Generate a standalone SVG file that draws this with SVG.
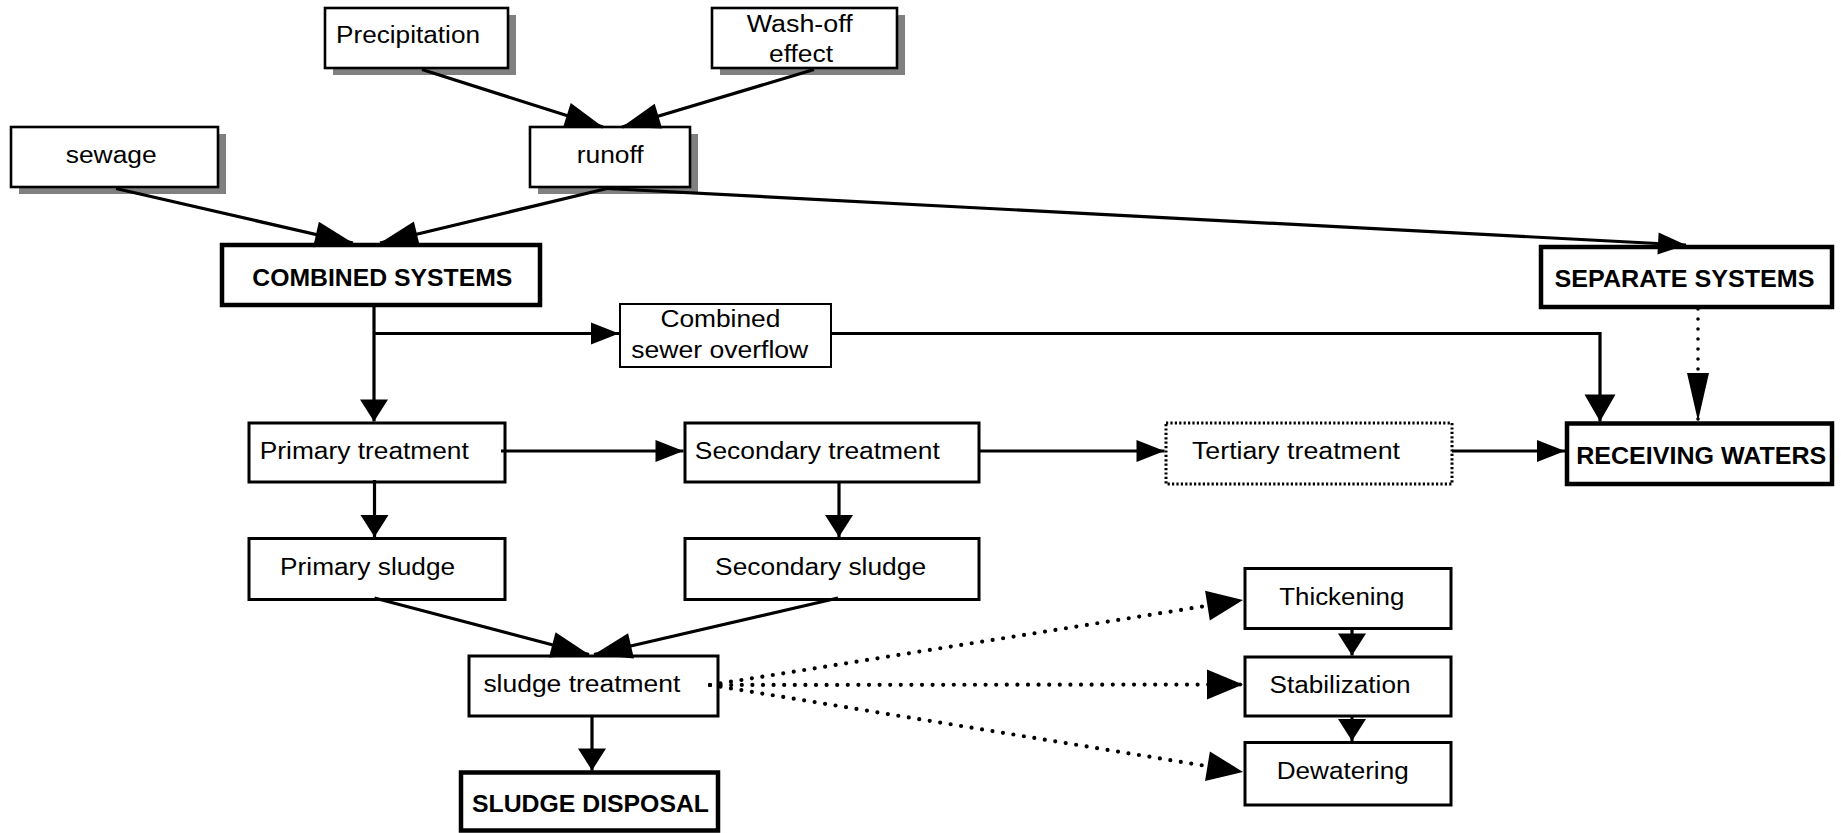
<svg xmlns="http://www.w3.org/2000/svg" width="1841" height="833" viewBox="0 0 1841 833">
<style>
.bg{fill:#fff}
.sh{fill:#808080;stroke:none}
.box{fill:#fff;stroke:#000;stroke-width:2.6}
.boxn{fill:#fff;stroke:#000;stroke-width:3}
.boxb{fill:#fff;stroke:#000;stroke-width:4.5}
.boxt{fill:#fff;stroke:#000;stroke-width:2}
.boxd{fill:#fff;stroke:#000;stroke-width:3;stroke-dasharray:2.2 2.2}
.t{font-family:"Liberation Sans",Arial,sans-serif;font-size:23px;fill:#000;text-anchor:middle}
.tb{font-family:"Liberation Sans",Arial,sans-serif;font-size:24px;font-weight:bold;fill:#000;text-anchor:middle}
.c{fill:none;stroke:#000;stroke-width:3.2}
.cd{fill:none;stroke:#000;stroke-width:4.2;stroke-linecap:round;stroke-dasharray:0 10.6}
.cd2{fill:none;stroke:#000;stroke-width:3.6;stroke-linecap:round;stroke-dasharray:0 10}
.ah{fill:#000;stroke:none}
</style>
<defs>
<marker id="aH" markerUnits="userSpaceOnUse" markerWidth="28" markerHeight="22" refX="28" refY="11" orient="auto" overflow="visible"><path class="ah" d="M0,0 L28,11 L0,22 z"/></marker>
<marker id="aV" markerUnits="userSpaceOnUse" markerWidth="22" markerHeight="28" refX="22" refY="14" orient="auto" overflow="visible"><path class="ah" d="M0,0 L22,14 L0,28 z"/></marker>
<marker id="aV2" markerUnits="userSpaceOnUse" markerWidth="27" markerHeight="31" refX="27" refY="15.5" orient="auto" overflow="visible"><path class="ah" d="M0,0 L27,15.5 L0,31 z"/></marker>
<marker id="aD" markerUnits="userSpaceOnUse" markerWidth="38" markerHeight="26" refX="38" refY="13" orient="auto" overflow="visible"><path class="ah" d="M0,0 L38,13 L0,26 z"/></marker>
<marker id="aB" markerUnits="userSpaceOnUse" markerWidth="36" markerHeight="30" refX="36" refY="15" orient="auto" overflow="visible"><path class="ah" d="M0,0 L36,15 L0,30 z"/></marker>
<marker id="aL" markerUnits="userSpaceOnUse" markerWidth="48" markerHeight="22" refX="48" refY="11" orient="auto" overflow="visible"><path class="ah" d="M0,0 L48,11 L0,22 z"/></marker>
</defs>
<rect class="bg" x="0" y="0" width="1841" height="833"/>

<g id="precipitation">
<rect class="sh" x="333" y="15" width="183" height="60"/>
<rect class="box" x="325" y="8" width="183" height="60"/>
<text class="t" x="408" y="43" textLength="144" lengthAdjust="spacingAndGlyphs">Precipitation</text>
</g>
<g id="washoff">
<rect class="sh" x="720" y="15" width="185" height="60"/>
<rect class="box" x="712" y="8" width="185" height="60"/>
<text class="t" x="799.7" y="32" textLength="106" lengthAdjust="spacingAndGlyphs">Wash-off</text>
<text class="t" x="801" y="62" textLength="64" lengthAdjust="spacingAndGlyphs">effect</text>
</g>
<g id="sewage">
<rect class="sh" x="19" y="134" width="207" height="60"/>
<rect class="box" x="11" y="127" width="207" height="60"/>
<text class="t" x="111.2" y="163" textLength="91" lengthAdjust="spacingAndGlyphs">sewage</text>
</g>
<g id="runoff">
<rect class="sh" x="538" y="134" width="160" height="60"/>
<rect class="box" x="530" y="127" width="160" height="60"/>
<text class="t" x="610.2" y="163" textLength="67" lengthAdjust="spacingAndGlyphs">runoff</text>
</g>
<g id="combined">
<rect class="boxb" x="222" y="245" width="318" height="60"/>
<text class="tb" x="382.3" y="286" textLength="260" lengthAdjust="spacingAndGlyphs">COMBINED SYSTEMS</text>
</g>
<g id="separate">
<rect class="boxb" x="1541" y="247" width="291" height="60"/>
<text class="tb" x="1684.5" y="287" textLength="260" lengthAdjust="spacingAndGlyphs">SEPARATE SYSTEMS</text>
</g>
<g id="cso">
<rect class="boxt" x="620" y="304" width="211" height="63"/>
<text class="t" x="720.4" y="327" textLength="120" lengthAdjust="spacingAndGlyphs">Combined</text>
<text class="t" x="719.8" y="357.5" textLength="177" lengthAdjust="spacingAndGlyphs">sewer overflow</text>
</g>
<g id="primary-treatment">
<rect class="boxn" x="249" y="423" width="256" height="59"/>
<text class="t" x="364.3" y="459" textLength="209" lengthAdjust="spacingAndGlyphs">Primary treatment</text>
</g>
<g id="secondary-treatment">
<rect class="boxn" x="685" y="423" width="294" height="59"/>
<text class="t" x="817.3" y="459" textLength="245" lengthAdjust="spacingAndGlyphs">Secondary treatment</text>
</g>
<g id="tertiary-treatment">
<rect class="boxd" x="1166" y="423" width="286" height="61"/>
<text class="t" x="1296" y="459" textLength="208" lengthAdjust="spacingAndGlyphs">Tertiary treatment</text>
</g>
<g id="receiving">
<rect class="boxb" x="1567" y="423.5" width="265" height="60.5"/>
<text class="tb" x="1701.2" y="464.3" textLength="250" lengthAdjust="spacingAndGlyphs">RECEIVING WATERS</text>
</g>
<g id="primary-sludge">
<rect class="boxn" x="249" y="538.5" width="256" height="61"/>
<text class="t" x="367.6" y="575" textLength="175" lengthAdjust="spacingAndGlyphs">Primary sludge</text>
</g>
<g id="secondary-sludge">
<rect class="boxn" x="685" y="538.5" width="294" height="61"/>
<text class="t" x="820.6" y="575" textLength="211" lengthAdjust="spacingAndGlyphs">Secondary sludge</text>
</g>
<g id="sludge-treatment">
<rect class="boxn" x="469" y="656" width="249" height="60"/>
<text class="t" x="581.9" y="692" textLength="197" lengthAdjust="spacingAndGlyphs">sludge treatment</text>
</g>
<g id="sludge-disposal">
<rect class="boxb" x="461" y="772.5" width="257" height="58"/>
<text class="tb" x="590.5" y="812" textLength="237" lengthAdjust="spacingAndGlyphs">SLUDGE DISPOSAL</text>
</g>
<g id="thickening">
<rect class="boxn" x="1245" y="568.5" width="206" height="60"/>
<text class="t" x="1341.8" y="605" textLength="125" lengthAdjust="spacingAndGlyphs">Thickening</text>
</g>
<g id="stabilization">
<rect class="boxn" x="1245" y="657" width="206" height="59"/>
<text class="t" x="1340" y="693" textLength="141" lengthAdjust="spacingAndGlyphs">Stabilization</text>
</g>
<g id="dewatering">
<rect class="boxn" x="1245" y="742.5" width="206" height="62.5"/>
<text class="t" x="1342.7" y="779" textLength="132" lengthAdjust="spacingAndGlyphs">Dewatering</text>
</g>

<g id="connectors">
<path class="c" d="M422,69.5 L603,127" marker-end="url(#aD)"/>
<path class="c" d="M814,69.5 L622,127" marker-end="url(#aD)"/>
<path class="c" d="M116,188.5 L353,243" marker-end="url(#aD)"/>
<path class="c" d="M607,188.5 L380,243" marker-end="url(#aD)"/>
<path class="c" d="M607,188.5 L1686,245" marker-end="url(#aH)"/>
<path class="c" d="M374,307 L374,421.5" marker-end="url(#aV)"/>
<path class="c" d="M374,333.5 L619,333.5" marker-end="url(#aH)"/>
<path class="c" d="M831,333.5 L1600,333.5 L1600,421.5" marker-end="url(#aV2)"/>
<path class="cd2" d="M1698,309 L1698,421" marker-end="url(#aL)"/>
<path class="c" d="M501,451 L683.5,451" marker-end="url(#aH)"/>
<path class="c" d="M980,451 L1164.5,451" marker-end="url(#aH)"/>
<path class="c" d="M1452,451 L1565,451" marker-end="url(#aH)"/>
<path class="c" d="M374.5,480 L374.5,537" marker-end="url(#aV)"/>
<path class="c" d="M839,481 L839,537" marker-end="url(#aV)"/>
<path class="c" d="M374.5,598 L589,654.5" marker-end="url(#aD)"/>
<path class="c" d="M838,598 L594,654.5" marker-end="url(#aD)"/>
<path class="c" d="M592,717 L592,770.5" marker-end="url(#aV)"/>
<path class="cd" d="M710,685 L1243,600" marker-end="url(#aB)"/>
<path class="cd" d="M710,685 L1243,684.5" marker-end="url(#aB)"/>
<path class="cd" d="M710,685 L1243,772" marker-end="url(#aB)"/>
<path class="c" d="M1352,628 L1352,655.5" marker-end="url(#aV)"/>
<path class="c" d="M1352,716 L1352,741" marker-end="url(#aV)"/>
</g>
</svg>
